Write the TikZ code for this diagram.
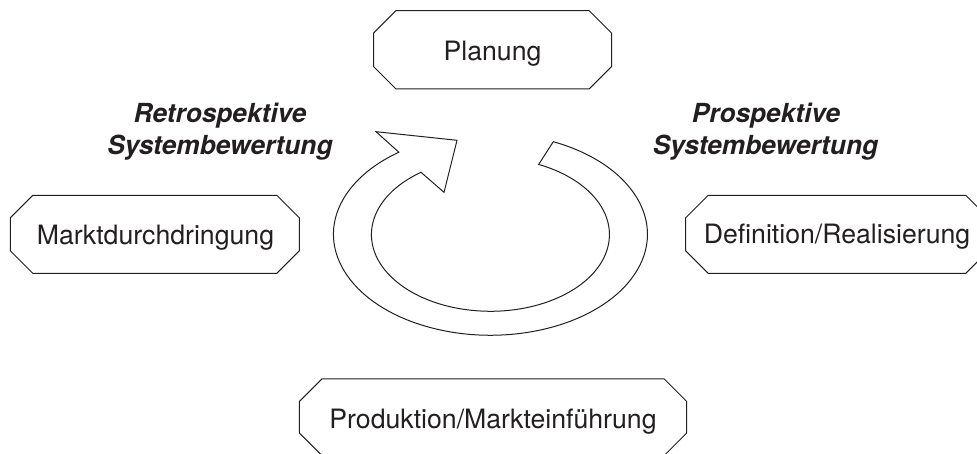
\documentclass[tikz,border=0pt]{standalone}
\usepackage{fontspec}
\setmainfont{TeX Gyre Heros}
\definecolor{ink}{HTML}{231F20}
\tikzset{
  phase/.style={text=ink, inner sep=0pt, anchor=base, font=\fontsize{20}{24}\selectfont},
  review/.style={text=ink, inner sep=0pt, anchor=base, font=\fontsize{19.7}{24}\selectfont\bfseries\itshape},
  outline/.style={draw=ink, line width=0.75pt, line join=miter}
}
% #1 left, #2 right, #3 upper y, #4 lower y (in reference pixels, y upward)
\newcommand{\octobox}[4]{\draw[outline]
  (#1+22.5,#3) -- (#2-22.5,#3) -- (#2,#3-22.5) -- (#2,#4+22.5) -- (#2-22.5,#4)
  -- (#1+22.5,#4) -- (#1,#4+22.5) -- (#1,#3-22.5) -- cycle;}
\begin{document}
\begin{tikzpicture}[x=0.75pt,y=0.75pt]
\useasboundingbox (0,0) rectangle (977,453);
\clip (0,0) rectangle (977,453);
\octobox{373.5}{611.7}{442.3}{364}
\octobox{10.3}{299.3}{257.7}{179.7}
\octobox{685.7}{988.3}{257.7}{179.7}
\octobox{299.3}{686.7}{74}{-2.5}
\node[phase] (planung) at (492.5,392) {Planung};
\node[phase] (markt) at (155.5,208) {Marktdurchdringung};
\node[phase] (definition) at (837,209) {Definition/Realisierung};
\node[phase] (produktion) at (493,25) {Produktion/Markteinführung};
\node[review] (retro1) at (220,330) {Retrospektive};
\node[review] (retro2) at (220,298) {Systembewertung};
\node[review] (pro1) at (766,330) {Prospektive};
\node[review] (pro2) at (765.5,298) {Systembewertung};
\draw[outline] (553.3,311.3)
  arc[start angle=66.4, end angle=-234.3, x radius=157, y radius=101]
  -- (376,321.3) -- (457,312.7) -- (444,260.7) -- (421,280.7)
  arc[start angle=125.7, end angle=426.1, x radius=119, y radius=76.7] -- cycle;
\end{tikzpicture}
\end{document}
